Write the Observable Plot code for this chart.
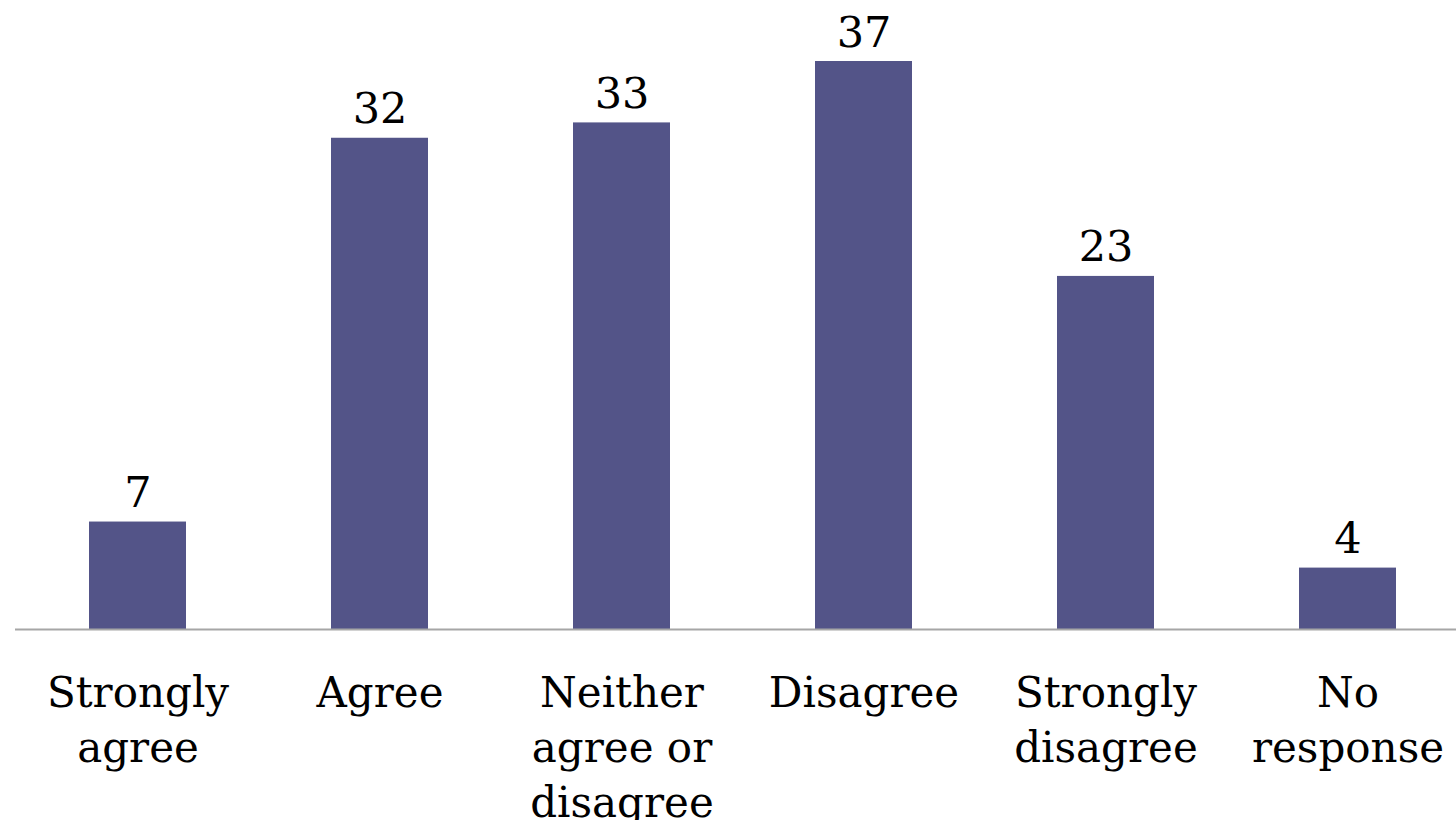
<!DOCTYPE html>
<html>
<head>
<meta charset="utf-8">
<script src="https://cdn.jsdelivr.net/npm/d3@7"></script>
<script src="https://cdn.jsdelivr.net/npm/@observablehq/plot@0.6"></script>
<style>
  html, body { margin: 0; padding: 0; background: #fff; }
</style>
</head>
<body>
<div id="chart"></div>
<script>
const categories = ["Strongly\nagree", "Agree", "Neither\nagree or\ndisagree", "Disagree", "Strongly\ndisagree", "No\nresponse"];
const values = [7, 32, 33, 37, 23, 4];

const data = categories.map((c, i) => ({category: c, value: values[i]}));

const font = "'DejaVu Serif', 'Liberation Serif', serif";

const chart = Plot.plot({
  width: 1456,
  height: 820,
  marginTop: 0,
  marginBottom: 0,
  marginLeft: 15,
  marginRight: 0,
  style: {fontFamily: font, background: "#fff"},
  x: {domain: categories, range: [14.2, 1470], paddingInner: 0.6, paddingOuter: 0.3, axis: null},
  y: {domain: [0, 37], range: [629, 61], axis: null},
  marks: [
    Plot.barY(data, {x: "category", y: "value", fill: "#535488"}),
    Plot.ruleY([0], {stroke: "#a6a6a6", strokeWidth: 2}),
    Plot.text(data, {x: "category", y: "value", text: d => String(d.value), lineAnchor: "bottom", dy: -15, fontSize: 43, fill: "#000"}),
    Plot.text(data, {x: "category", y: 0, text: "category", lineAnchor: "top", dy: 38, fontSize: 42, lineHeight: 1.31, fill: "#000"})
  ]
});
document.getElementById("chart").appendChild(chart);
</script>
</body>
</html>
